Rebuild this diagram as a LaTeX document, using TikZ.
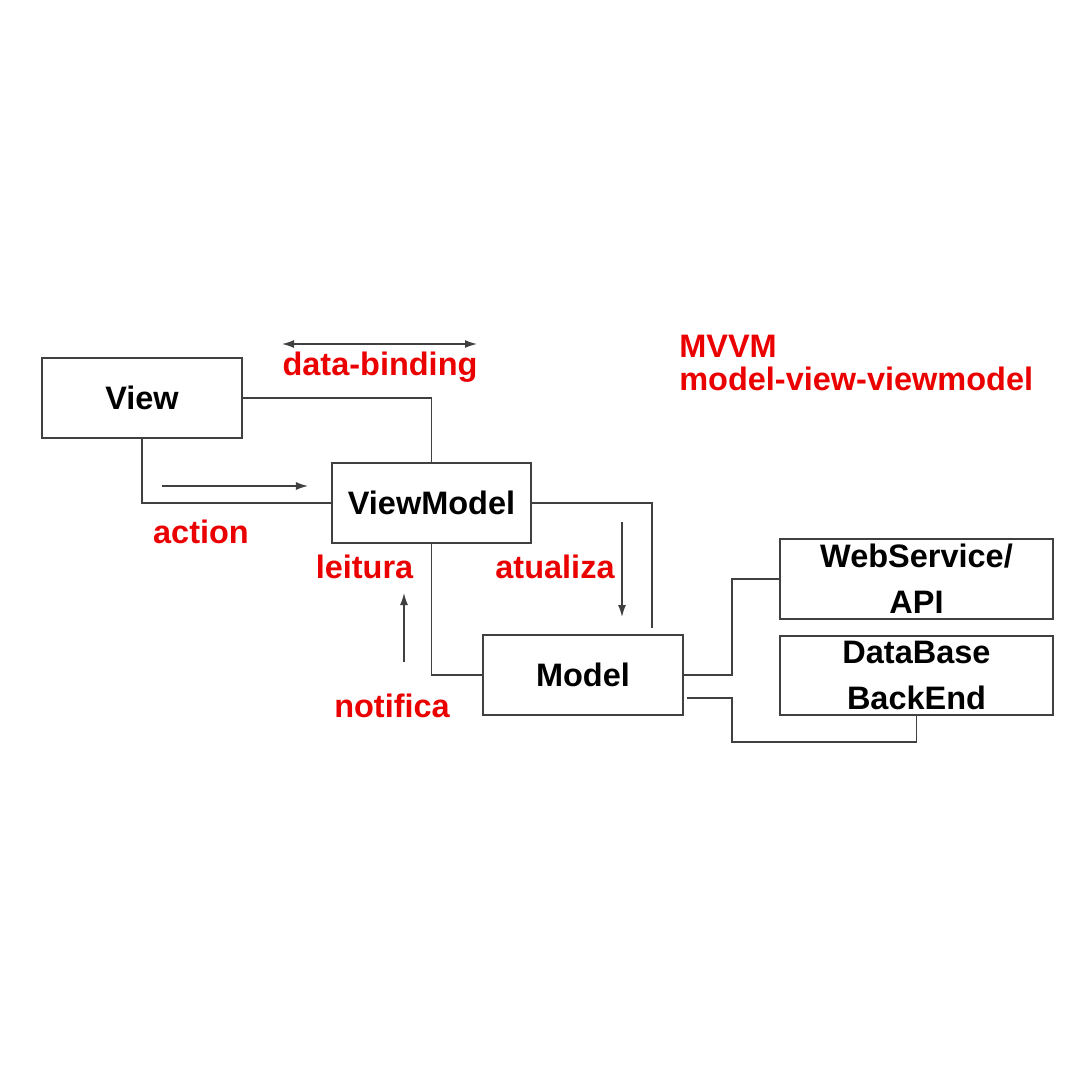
\documentclass[tikz,border=0pt]{standalone}
\usepackage{fontspec}
\setmainfont{Liberation Sans}
\usetikzlibrary{%
  calc,
  positioning,
  arrows.meta,
}
\definecolor{labelred}{RGB}{235,0,0}
\newcommand{\boxfont}{\fontsize{23.1pt}{33pt}\selectfont\bfseries}
\tikzset{
  > = {Latex[length = 3mm, width = 2mm]},
  block/.style = {draw = black!75, line width = 1pt, fill = white,
    inner sep = 0pt, minimum height = 2cm, font = \boxfont},
  wire/.style = {draw = black!75, line width = 1pt},
  flow/.style = {wire, ->},
  tag/.style = {text = labelred, font = \boxfont,
    inner sep = 0pt, anchor = base},
}

\begin{document}
\begin{tikzpicture}[x = 0.025cm, y = -0.025cm]
  % units = pixels of the 1080 square
  \useasboundingbox (0,0) rectangle (1080,1080);

  \node[block, minimum width = 5cm] (view) at (142,398) {View};
  \node[block, minimum width = 4.975cm] (vm) at (431.5,503) {ViewModel};
  \node[block, minimum width = 5cm] (model) at (583,675) {Model};
  \node[block, minimum width = 6.825cm, align = center]
    (ws) at (916.5,579) {WebService/\\API};
  \node[block, minimum width = 6.825cm, minimum height = 1.975cm,
    align = center] (db) at (916.5,675.5) {DataBase\\BackEnd};

  \coordinate (vmend) at (652,628);
  \coordinate (wsbend) at (732,579);
  \coordinate (dbstart) at ($(model.east) + (3,23)$);
  \coordinate (dbbend) at (732,742);

  \draw[wire] (view.east) -| (vm.north);
  \draw[wire] (view.south) |- (vm.west);
  \draw[wire] (vm.east) -| (vmend);
  \draw[wire] (vm.south) |- (model.west);
  \draw[wire] (model.east) -| (wsbend) -- (ws.west);
  \draw[wire] (dbstart) -| (dbbend) -| (db.south);

  \coordinate (bindL) at (282,344);
  \coordinate (bindR) at (477,344);
  \coordinate (actA) at (162,486);
  \coordinate (actB) at (308,486);
  \coordinate (updA) at (622,522);
  \coordinate (updB) at (622,617);
  \coordinate (notA) at (404,662);
  \coordinate (notB) at (404,593);

  \draw[wire, <->] (bindL) -- (bindR);
  \draw[flow] (actA) -- (actB);
  \draw[flow] (updA) -- (updB);
  \draw[flow] (notA) -- (notB);

  \node[tag] (binding) at (380,375) {data-binding};
  \node[tag] (action) at (201,543) {action};
  \node[tag] (leitura) at (364.5,578) {leitura};
  \node[tag] (atualiza) at (555,578) {atualiza};
  \node[tag] (notifica) at (392,717) {notifica};
  \node[tag, anchor = base west] (mvvm) at (679,357) {MVVM};
  \node[tag, anchor = base west] (mvvmfull)
    at (679,390) {model-view-viewmodel};
\end{tikzpicture}
\end{document}
